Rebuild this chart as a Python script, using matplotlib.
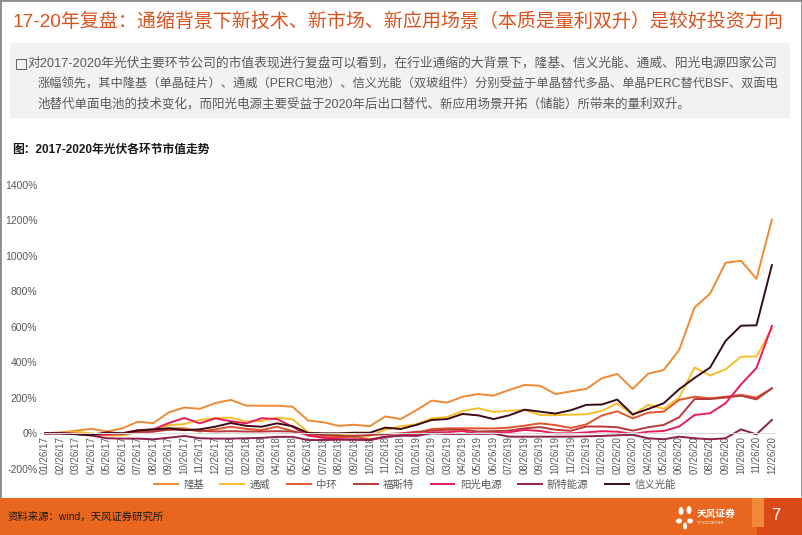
import matplotlib
matplotlib.use("Agg")
import matplotlib.pyplot as plt
from matplotlib.patches import Rectangle, Ellipse

plt.rcParams['font.family'] = ['Liberation Sans', 'Noto Sans CJK SC', 'DejaVu Sans']

dates = []
for yr in ["17", "18", "19", "20"]:
    for m in range(1, 13):
        dates.append("%02d/26/%s" % (m, yr))

longi = [0, 5, 15, 25, 10, 28, 65, 57, 118, 145, 138, 170, 188, 156, 155, 155, 150, 72, 62, 42, 48, 40, 95, 80,
         130, 184, 173, 206, 221, 212, 244, 272, 268, 221, 236, 250, 310, 334, 250, 336, 356, 469, 709, 786, 960, 972, 870, 1204]
tongwei = [0, 2, 8, 0, -12, -12, 8, 18, 45, 52, 75, 85, 88, 66, 69, 88, 79, 6, -5, -10, -12, -15, 20, 40,
           50, 84, 92, 125, 141, 120, 127, 131, 103, 102, 105, 107, 126, 169, 103, 161, 138, 200, 371, 325, 360, 431, 433, 590]
zhonghuan = [0, 0, -3, -5, -8, -5, 5, 10, 28, 28, 10, 22, 37, 25, 18, 37, 12, -10, -22, -22, -20, -34, -20, -12,
             0, 24, 28, 28, 28, 27, 32, 43, 56, 46, 30, 50, 100, 124, 84, 116, 122, 188, 206, 197, 206, 216, 201, 253]
fosite = [0, 0, -3, -5, 0, 0, 5, 10, 20, 20, 15, 10, 12, 10, 10, 12, 10, -5, -10, -15, -15, -10, -5, 0,
          8, 15, 20, 20, 10, 12, 15, 28, 35, 20, 14, 38, 38, 34, 15, 34, 47, 90, 193, 193, 201, 212, 191, 253]
sungrow = [0, 0, -3, -10, -6, 0, 18, 22, 58, 86, 56, 84, 68, 56, 85, 80, 37, -13, -25, -33, -35, -38, -20, -12,
           -5, 5, 6, 13, -4, 0, 6, 19, 13, 0, 0, 5, 12, 9, -4, 9, 13, 38, 103, 113, 169, 275, 368, 605]
xinte = [0, 0, -5, -13, -28, -30, -30, -34, -25, -15, -28, -30, -30, -28, -26, -20, -20, -38, -38, -36, -36, -38, -20, -13,
         -15, 0, -4, -4, -2, -2, -19, -19, -19, -19, -19, -17, -15, -11, -9, -28, -34, -19, -28, -34, -28, 22, -6, 75]
xinyi = [0, 0, -5, -10, 5, 0, 15, 22, 28, 18, 22, 37, 58, 42, 37, 56, 40, 2, 0, 0, 3, 3, 32, 24,
         47, 75, 80, 109, 101, 80, 101, 133, 122, 111, 130, 160, 162, 190, 106, 137, 169, 248, 312, 370, 520, 606, 608, 947]

names = ["隆基", "通威", "中环", "福斯特", "阳光电源", "新特能源", "信义光能"]
series = [longi, tongwei, zhonghuan, fosite, sungrow, xinte, xinyi]
colors = ["#EE8A35", "#F7BE2A", "#E2542B", "#B8393A", "#E81C5C", "#8E1F4C", "#3A0B12"]

fig = plt.figure(figsize=(8.02, 5.35), dpi=100)
W, H = 802.0, 535.0

# slide decorations
fig.patches.append(Rectangle((0.0, 0.0), 1.0, 1.0, transform=fig.transFigure,
                             facecolor="none", edgecolor="#8C8C8C", linewidth=2))
fig.patches.append(Rectangle((10 / W, 1 - 118 / H), 780 / W, 75 / H, transform=fig.transFigure,
                             facecolor="#F2F2F2", edgecolor="none"))
fig.text(12 / W, 1 - 22 / H, "17-20年复盘：通缩背景下新技术、新市场、新应用场景（本质是量利双升）是较好投资方向",
         fontsize=13.7, color="#D9531E", va="center", ha="left")

body = ["对2017-2020年光伏主要环节公司的市值表现进行复盘可以看到，在行业通缩的大背景下，隆基、信义光能、通威、阳光电源四家公司",
        "涨幅领先，其中隆基（单晶硅片）、通威（PERC电池）、信义光能（双玻组件）分别受益于单晶替代多晶、单晶PERC替代BSF、双面电",
        "池替代单面电池的技术变化，而阳光电源主要受益于2020年后出口替代、新应用场景开拓（储能）所带来的量利双升。"]
fig.text(15 / W, 1 - 63 / H, "□", fontsize=10, color="#404040", va="center", ha="left",
         family=['DejaVu Sans'])
fig.text(27 / W, 1 - 63 / H, body[0], fontsize=9.2, color="#595959", va="center", ha="left")
fig.text(38 / W, 1 - 84 / H, body[1], fontsize=8.8, color="#595959", va="center", ha="left")
fig.text(38 / W, 1 - 104 / H, body[2], fontsize=9.0, color="#595959", va="center", ha="left")

fig.text(12 / W, 1 - 150 / H, "图：2017-2020年光伏各环节市值走势", fontsize=8.5, fontweight="bold",
         color="#1A1A1A", va="center", ha="left")

# footer
fig.patches.append(Rectangle((0, 0), 1, 37 / H, transform=fig.transFigure,
                             facecolor="#E8661E", edgecolor="none"))
fig.patches.append(Rectangle((757 / W, 0), 45 / W, 37 / H, transform=fig.transFigure,
                             facecolor="#DA4A18", edgecolor="none"))
fig.patches.append(Rectangle((752 / W, 8 / H), 12 / W, 29 / H, transform=fig.transFigure,
                             facecolor="#F08A3A", edgecolor="none"))
fig.text(8 / W, 1 - 517 / H, "资料来源：wind，天风证券研究所", fontsize=7.5, color="#1A1A1A",
         va="center", ha="left")
for (ex, ey, ew, eh) in [(681, 511, 5, 8), (689, 510, 5, 8), (679, 521, 6, 5), (690, 521, 6, 5), (685, 526, 4, 7)]:
    fig.patches.append(Ellipse((ex / W, 1 - ey / H), ew / W, eh / H, transform=fig.transFigure,
                               facecolor="white", edgecolor="none"))
fig.text(697 / W, 1 - 514 / H, "天风证券", fontsize=7, color="white", fontweight="bold",
         va="center", ha="left")
fig.text(697 / W, 1 - 523 / H, "TF SECURITIES", fontsize=2.5, color="white", va="center", ha="left")
fig.text(776 / W, 1 - 516 / H, "7", fontsize=12, color="white", va="center", ha="center")

# chart
ax = fig.add_axes([40 / W, 1 - 468.8 / H, 735 / W, 284.1 / H])
ax.spines['bottom'].set_position(('data', 0))
ax.spines['bottom'].set_color("#D9D9D9")
for s in ['top', 'right', 'left']:
    ax.spines[s].set_visible(False)

x = list(range(len(dates)))
for name, vals, c in zip(names, series, colors):
    ax.plot(x, vals, color=c, linewidth=1.4, label=name)

ax.set_ylim(-200, 1400)
ax.set_yticks(range(-200, 1401, 200))
ax.set_yticklabels(["%d%%" % v for v in range(-200, 1401, 200)])
ax.set_xlim(-0.33, 47.2)
ax.set_xticks(x)
ax.set_xticklabels(dates)
ax.tick_params(axis='x', length=0, labelsize=7, labelcolor="#595959", pad=2, labelrotation=90)
ax.tick_params(axis='y', length=0, labelsize=7.5, labelcolor="#595959", pad=2)

leg = ax.legend(loc="center", bbox_to_anchor=(0.51, 1 - (485 - 184.7) / 284.1), ncol=7, frameon=False,
                fontsize=7.5, handlelength=2.3, columnspacing=1.6, handletextpad=0.5)
for t in leg.get_texts():
    t.set_color("#595959")

fig.savefig("out.png", dpi=100)
